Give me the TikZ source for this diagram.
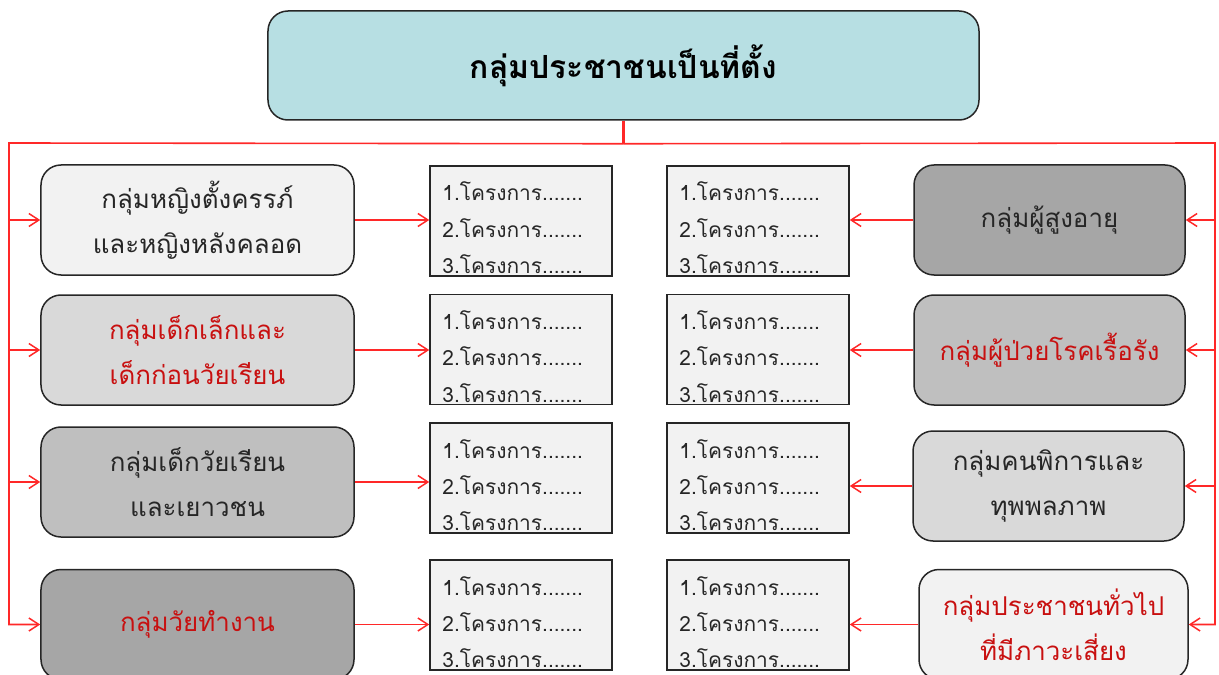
\documentclass[tikz,border=0pt]{standalone}
\usepackage{fontspec}
\newfontfamily\thaifont[Script=Thai]{Loma}
\usetikzlibrary{arrows.meta}
\definecolor{titlefill}{RGB}{183,223,227}
\definecolor{grpa}{RGB}{242,242,242}
\definecolor{grpb}{RGB}{217,217,217}
\definecolor{grpc}{RGB}{191,191,191}
\definecolor{grpd}{RGB}{166,166,166}
\definecolor{linkred}{RGB}{255,40,40}
\definecolor{txtred}{RGB}{200,16,16}
\begin{document}
\begin{tikzpicture}[x=1bp,y=-1bp,
  title/.style={draw=black!85,line width=1.5bp,rounded corners=20bp,fill=titlefill,
    minimum width=711bp,minimum height=109bp,font=\thaifont\bfseries\fontsize{32}{36}\selectfont},
  grp/.style={draw=black!85,line width=1.5bp,rounded corners=20bp,minimum height=110bp,
    align=center,text=black!85,font=\thaifont\fontsize{26}{45}\selectfont},
  proj/.style={draw=black!85,line width=1.5bp,fill=grpa,minimum width=182bp,minimum height=110bp},
  projtxt/.style={align=left,inner sep=0pt,text=black!85,font=\thaifont\fontsize{21}{36.5}\selectfont},
  link/.style={draw=linkred,line width=1.6bp},
  arr/.style={link,-{Straight Barb[length=10bp,width=13bp,line width=1.5bp]}}]
\useasboundingbox (0,0) rectangle (1219,675);
\clip (0,0) rectangle (1219,675);
% top
\node[title] (top) at (623.5,65.5) {กลุ่มประชาชนเป็นที่ตั้ง};
% left groups
\node[grp,fill=grpa,minimum width=313bp] (lb1) at (197.5,220) {กลุ่มหญิงตั้งครรภ์\\และหญิงหลังคลอด};
\node[grp,fill=grpb,minimum width=313bp,text=txtred] (lb2) at (197.5,350) {กลุ่มเด็กเล็กและ\\เด็กก่อนวัยเรียน};
\node[grp,fill=grpc,minimum width=313bp] (lb3) at (197.5,482) {กลุ่มเด็กวัยเรียน\\และเยาวชน};
\node[grp,fill=grpd,minimum width=313bp,text=txtred] (lb4) at (197.5,624.5) {กลุ่มวัยทำงาน};
% right groups
\node[grp,fill=grpd,minimum width=271bp] (rb1) at (1049.5,220) {กลุ่มผู้สูงอายุ};
\node[grp,fill=grpc,minimum width=271bp,text=txtred] (rb2) at (1049.5,350) {กลุ่มผู้ป่วยโรคเรื้อรัง};
\node[grp,fill=grpb,minimum width=271bp] (rb3) at (1048.5,486) {กลุ่มคนพิการและ\\ทุพพลภาพ};
\node[grp,fill=grpa,minimum width=269bp,text=txtred] (rb4) at (1053.5,624.5) {กลุ่มประชาชนทั่วไป\\ที่มีภาวะเสี่ยง};
% project lists
\foreach \n/\x/\y in {pl1/521/221,pl2/521/349.5,pl3/521/478,pl4/521/615,
                     pr1/758/221,pr2/758/349.5,pr3/758/478,pr4/758/615} {
  \node[proj] (\n) at (\x,\y) {};
  \node[projtxt,anchor=west] (\n t) at ([xshift=13bp,yshift=-7bp]\n.west)
    {1.โครงการ.......\\2.โครงการ.......\\3.โครงการ.......};
}
% trunk lines
\coordinate (bus) at ([yshift=-23bp]top.south);
\coordinate (busl) at (9,143);
\coordinate (busr) at (1215,143);
\draw[link,line width=2.2bp] (top.south) -- (bus);
\draw[arr] (bus) -- (busl) |- (lb4.west);
\draw[arr] (bus) -- (busr) |- (rb4.east);
\foreach \i in {1,2,3} {
  \draw[arr] (lb\i.west -| busl) -- (lb\i.west);
  \draw[arr] (rb\i.east -| busr) -- (rb\i.east);
}
% groups to lists
\foreach \i in {1,2,3,4} {
  \draw[arr] (lb\i.east) -- (lb\i.east -| pl\i.west);
  \draw[arr] (rb\i.west) -- (rb\i.west -| pr\i.east);
}
\end{tikzpicture}
\end{document}
